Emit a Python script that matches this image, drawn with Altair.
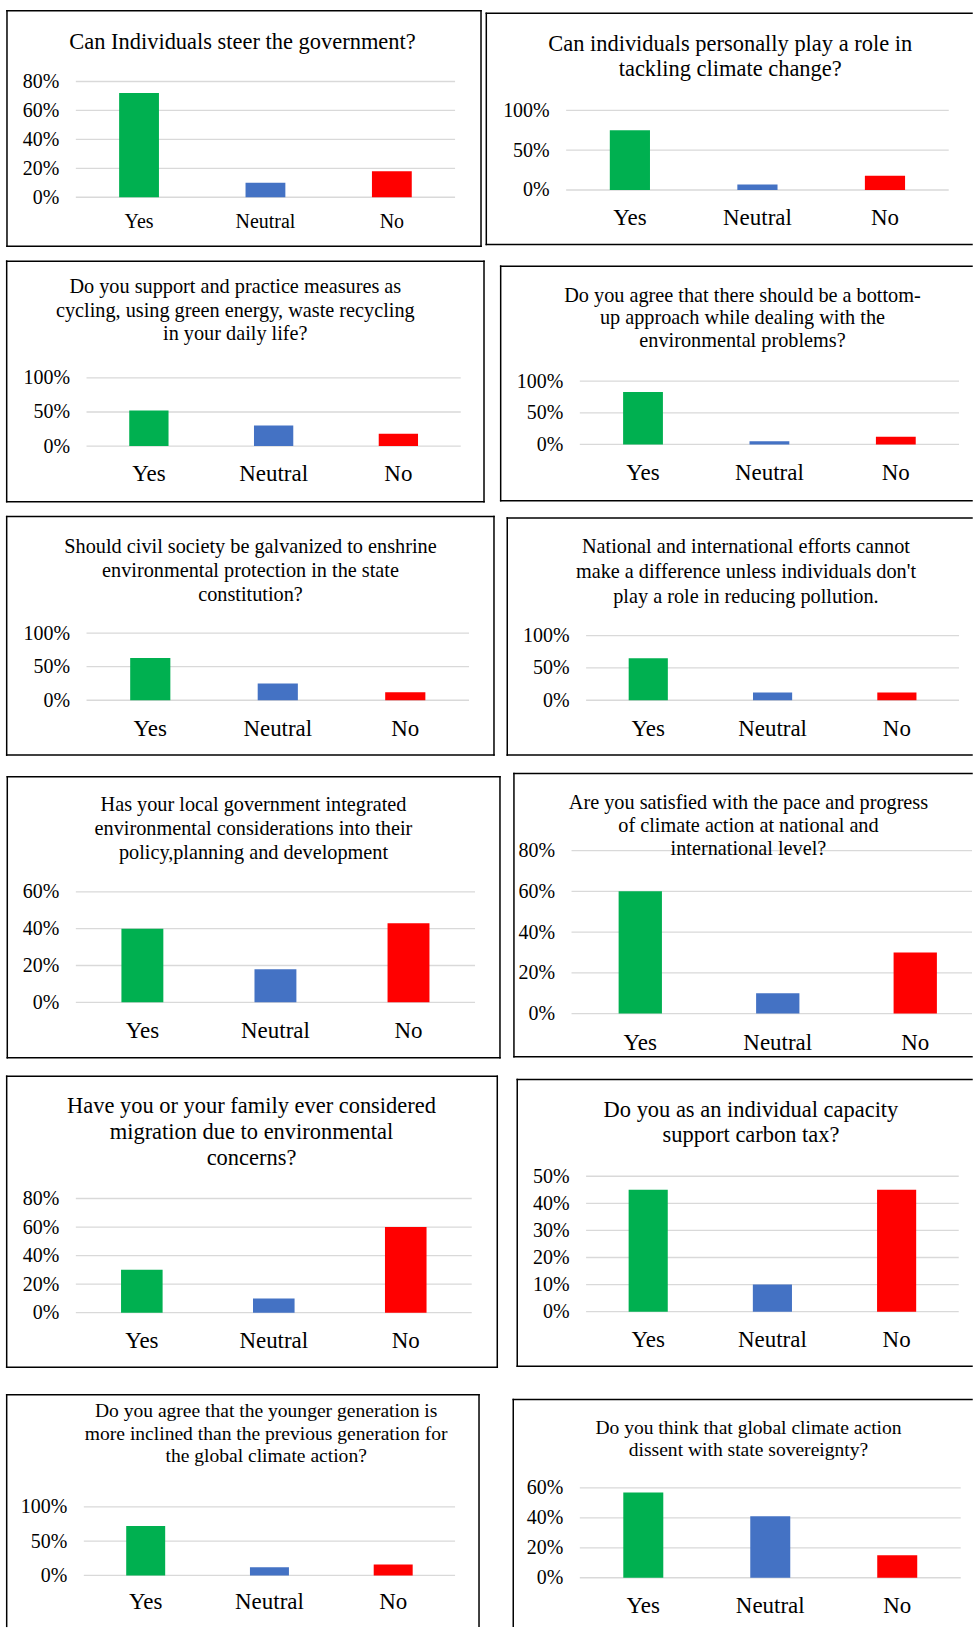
import altair as alt
import pandas as pd

answers = ["Yes", "Neutral", "No"]
colors = ["#00B050", "#4472C4", "#FF0000"]

titles = [
    ["Can Individuals steer the government?"],
    ["Can individuals personally play a role in", "tackling climate change?"],
    ["Do you support and practice measures as", "cycling, using green energy, waste recycling", "in your daily life?"],
    ["Do you agree that there should be a bottom-", "up approach while dealing with the", "environmental problems?"],
    ["Should civil society be galvanized to enshrine", "environmental protection in the state", "constitution?"],
    ["National and international efforts cannot", "make a difference unless individuals don't", "play a role in reducing pollution."],
    ["Has your local government integrated", "environmental considerations into their", "policy,planning and development"],
    ["Are you satisfied with the pace and progress", "of climate action at national and", "international level?"],
    ["Have you or your family ever considered", "migration due to environmental", "concerns?"],
    ["Do you as an individual capacity", "support carbon tax?"],
    ["Do you agree that the younger generation is", "more inclined than the previous generation for", "the global climate action?"],
    ["Do you think that global climate action", "dissent with state sovereignty?"],
]

values = [
    [0.72, 0.10, 0.18],
    [0.75, 0.07, 0.18],
    [0.52, 0.30, 0.18],
    [0.83, 0.05, 0.12],
    [0.63, 0.25, 0.12],
    [0.65, 0.12, 0.12],
    [0.40, 0.18, 0.43],
    [0.60, 0.10, 0.30],
    [0.30, 0.10, 0.60],
    [0.45, 0.10, 0.45],
    [0.72, 0.12, 0.16],
    [0.57, 0.41, 0.15],
]

y_max = [0.8, 1.0, 1.0, 1.0, 1.0, 1.0, 0.6, 0.8, 0.8, 0.5, 1.0, 0.6]
y_ticks = [
    [0, 0.2, 0.4, 0.6, 0.8],
    [0, 0.5, 1.0],
    [0, 0.5, 1.0],
    [0, 0.5, 1.0],
    [0, 0.5, 1.0],
    [0, 0.5, 1.0],
    [0, 0.2, 0.4, 0.6],
    [0, 0.2, 0.4, 0.6, 0.8],
    [0, 0.2, 0.4, 0.6, 0.8],
    [0, 0.1, 0.2, 0.3, 0.4, 0.5],
    [0, 0.5, 1.0],
    [0, 0.2, 0.4, 0.6],
]

# layout (absolute page pixels): cell, plot x-range, plot y (top tick, zero), frame box,
# title centre x / first line centre y / font size / line height, x-label centre y / font size
layout = [
    dict(cell=(0, 0, 485, 250), px=(76, 456), py=(80, 196), box=(7, 9, 482, 245), tx=243, ty=41.7, tfs=22.5, tlh=25, lx=220, lfs=20),
    dict(cell=(485, 0, 974, 250), px=(567.3, 950.7), py=(109, 188.7), box=(487.3, 11.7, None, 243.3), tx=731.7, ty=43.3, tfs=22.5, tlh=25, lx=216.7, lfs=23),
    dict(cell=(0, 250, 493, 508), px=(86.7, 461.7), py=(377, 445.3), box=(6.7, 260, 485, 501), tx=235.8, ty=286.7, tfs=20.3, tlh=23.3, lx=473.3, lfs=23),
    dict(cell=(493, 250, 974, 508), px=(581, 961), py=(380.3, 443.7), box=(501.7, 265, None, 500), tx=744, ty=295, tfs=20.3, tlh=23, lx=471.7, lfs=23),
    dict(cell=(0, 508, 502, 765), px=(86.7, 470), py=(632.7, 700), box=(6.7, 516, 495, 755), tx=251, ty=546.7, tfs=20.3, tlh=24.2, lx=728.3, lfs=23),
    dict(cell=(502, 508, 974, 765), px=(587.3, 961), py=(635.3, 700), box=(508.3, 517.3, None, 755), tx=747.5, ty=547.3, tfs=20.3, tlh=24.7, lx=728.3, lfs=23),
    dict(cell=(0, 765, 508, 1068), px=(76, 476), py=(892, 1002.7), box=(7.3, 776.7, 501, 1058.3), tx=254, ty=806, tfs=20.3, tlh=23.7, lx=1031, lfs=23),
    dict(cell=(508, 765, 974, 1068), px=(572.7, 986), py=(850.7, 1014), box=(515, 773.3, None, 1057.3), tx=750, ty=803.3, tfs=20.3, tlh=23, lx=1042.7, lfs=23),
    dict(cell=(0, 1068, 508, 1384), px=(76, 472.7), py=(1199.3, 1313.7), box=(6.7, 1076.7, 498.3, 1368.3), tx=252, ty=1107.7, tfs=22.5, tlh=25.8, lx=1341.7, lfs=23),
    dict(cell=(508, 1068, 974, 1384), px=(587.3, 960.7), py=(1177, 1312.7), box=(518.3, 1080, None, 1367.3), tx=752.5, ty=1111.7, tfs=22.5, tlh=25, lx=1340.7, lfs=23),
    dict(cell=(0, 1384, 497, 1628), px=(84, 456), py=(1508.3, 1577), box=(6.7, 1396, 480, None), tx=266.7, ty=1413.3, tfs=19.6, tlh=22.5, lx=1603.3, lfs=23),
    dict(cell=(497, 1384, 974, 1628), px=(581, 962.7), py=(1489.3, 1579.3), box=(514.3, 1400.7, None, None), tx=750, ty=1430, tfs=19.6, tlh=21.7, lx=1606.7, lfs=23),
]

FONT = "Liberation Serif"
GAP = 0.685  # bar gap as a fraction of the category step
one = pd.DataFrame({"k": [0]})


def panel(i):
    L = layout[i]
    cx0, cy0, cx1, cy1 = L["cell"]
    px0, px1 = L["px"]
    pyt, pyb = L["py"]
    CW = cx1 - cx0
    CH = cy1 - cy0

    def rx(v):
        return round(v - cx0, 2)

    def ry(v):
        return round(v - cy0, 2)

    # band scale over the whole cell, placed so that bars sit in the plot region
    step = (px1 - px0) / 3
    p_out = (CW / step - 3 + GAP) / 2
    b_align = (px0 - cx0 + GAP * step / 2) / (2 * p_out * step)

    # y scale over the whole cell so that 0 sits on the baseline and max on the top tick
    per_px = y_max[i] / (pyb - pyt)
    d0 = -(cy1 - pyb) * per_px
    d1 = y_max[i] + (pyt - cy0) * per_px

    y_axis = alt.Axis(
        title=None, values=y_ticks[i], format=".0%", grid=False,
        domain=False, ticks=False, tickSize=0, labelPadding=17,
        labelFont=FONT, labelFontSize=20, labelColor="black",
        offset=-round(px0 - cx0, 2),
    )
    y_scale = alt.Scale(domain=[d0, d1], nice=False, zero=False)

    layers = []
    # gridlines at the tick values
    grid_df = pd.DataFrame({"share": y_ticks[i]})
    layers.append(
        alt.Chart(grid_df).mark_rule(color="#D9D9D9", strokeWidth=1.3).encode(
            y=alt.Y("share:Q", scale=y_scale, axis=y_axis),
            x=alt.value(rx(px0)), x2=alt.value(rx(min(px1, cx1))),
        )
    )

    df = pd.DataFrame({"answer": answers, "share": values[i]})
    bars = alt.Chart(df).mark_bar().encode(
        x=alt.X(
            "answer:N", sort=answers,
            scale=alt.Scale(paddingInner=GAP, paddingOuter=round(p_out, 4), align=round(b_align, 4)),
            axis=alt.Axis(
                title=None, labelAngle=0, domain=False, ticks=False, tickSize=0,
                labelFont=FONT, labelFontSize=L["lfs"], labelColor="black",
                labelBaseline="middle", labelPadding=round(L["lx"] - pyb, 1),
                offset=-round(cy1 - pyb, 2),
            ),
        ),
        y=alt.Y("share:Q", scale=y_scale, axis=y_axis),
        color=alt.Color("answer:N", scale=alt.Scale(domain=answers, range=colors), legend=None),
    )
    layers.append(bars)

    fs = L["tfs"]
    layers.append(
        alt.Chart(one).mark_text(
            align="center", baseline="alphabetic", font=FONT, fontSize=fs,
            lineHeight=L["tlh"], color="black",
        ).encode(
            x=alt.value(rx(L["tx"])),
            y=alt.value(ry(L["ty"] + 0.27 * fs)),
            text=alt.value(titles[i]),
        )
    )

    bx0, by0, bx1, by1 = L["box"]
    right_open = bx1 is None
    bottom_open = by1 is None
    ex1 = cx1 if right_open else bx1
    ey1 = cy1 if bottom_open else by1
    edges = [(bx0, by0, ex1, by0), (bx0, by0, bx0, ey1)]
    if not right_open:
        edges.append((bx1, by0, bx1, ey1))
    if not bottom_open:
        edges.append((bx0, by1, ex1, by1))
    for (a, b, c, d) in edges:
        layers.append(
            alt.Chart(one).mark_rule(color="black", strokeWidth=1.5, strokeCap="square").encode(
                x=alt.value(rx(a)), y=alt.value(ry(b)),
                x2=alt.value(rx(c)), y2=alt.value(ry(d)),
            )
        )
    return alt.layer(*layers).properties(width=CW, height=CH)


rows = []
for r in range(6):
    rows.append(alt.hconcat(panel(2 * r), panel(2 * r + 1), spacing=0))

chart = (
    alt.vconcat(*rows, spacing=0)
    .properties(padding=0, background="white")
    .configure_view(stroke=None)
)

chart.save("out.html", embed_options={"renderer": "svg", "actions": False})
